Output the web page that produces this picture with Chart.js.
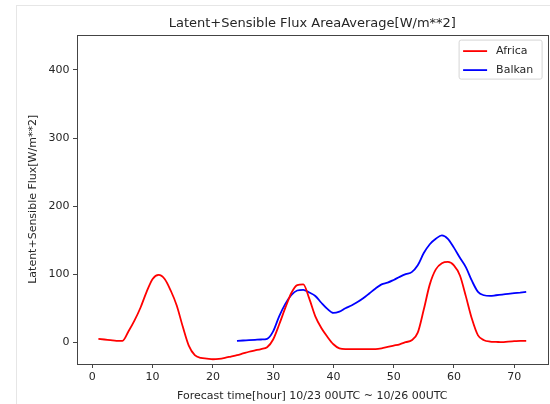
<!DOCTYPE html>
<html lang="en">
<head>
<meta charset="UTF-8">
<script src="https://cdn.jsdelivr.net/npm/chart.js"></script>
<title>Latent+Sensible Flux AreaAverage</title>
<style>
  html, body { margin: 0; padding: 0; background: #fff; }
  #wrap { position: relative; width: 550px; height: 404px; }
  #frame { position: absolute; left: 16px; top: 5px; right: 0; bottom: 0;
           border-left: 1px solid #e6e6e6; border-top: 1px solid #e6e6e6; }
  canvas { position: absolute; left: 0; top: 0; }
</style>
</head>
<body>
<div id="wrap">
  <div id="frame"></div>
  <canvas id="fluxChart" width="550" height="404"></canvas>
</div>

<script>
  // forecast hours
  const africaHours = [1,2,3,4,5,6,7,8,9,10,11,12,13,14,15,16,17,18,19,20,21,22,23,24,
    25,26,27,28,29,30,31,32,33,34,35,36,37,38,39,40,41,42,43,44,45,46,47,48,
    49,50,51,52,53,54,55,56,57,58,59,60,61,62,63,64,65,66,67,68,69,70,71,72];
  const africaFlux = [5,4,3,2,2,16,32,51,74,93,99,93,76,54,23,-5,-19,-23,-24,-25,-24.5,-23,-21,-19,
    -16.5,-14,-12,-10,-7.5,4,26,50,72,84,85,64,38,21,8,-3,-9,-10,-10,-10,-10,-10,-10,-9,
    -7,-5,-3,0,3,14,48,85,107,116,118,113,98,67,34,10,3,1,0.5,0,1,1.5,2,2];

  const balkanHours = [24,25,26,27,28,29,30,31,32,33,34,35,36,37,38,39,40,41,42,43,44,45,46,47,48,
    49,50,51,52,53,54,55,56,57,58,59,60,61,62,63,64,65,66,67,68,69,70,71,72];
  const balkanFlux = [2,2.5,3,3.5,4,5,16,38,56,69,76,77,73,68,58,49,43,45,50,54,59,65,72,79,85,
    87.5,91.5,96,100,103,113,131,144,152,157,152,139,124,110,90,74,69,68,69,70,71,72,73,74];

  const xTicks = [0,10,20,30,40,50,60,70];
  const yTicks = [0,100,200,300,400];

  const FONT = "'DejaVu Sans', sans-serif";
  const TXT = '#262626';

  // full rectangle around the plot, like matplotlib spines
  const axesBox = {
    id: 'axesBox',
    afterDatasetsDraw(chart) {
      const {ctx, chartArea: a} = chart;
      ctx.save();
      ctx.strokeStyle = '#444';
      ctx.lineWidth = 1;
      ctx.strokeRect(Math.round(a.left) + 0.5, Math.round(a.top) + 0.5,
                     Math.round(a.right - a.left), Math.round(a.bottom - a.top));
      ctx.restore();
    }
  };

  // matplotlib style legend in the upper right corner
  const legendBox = {
    id: 'legendBox',
    afterDraw(chart) {
      const {ctx, chartArea: a} = chart;
      const w = 83, h = 39;
      const x = a.right - 5.5 - w, y = a.top + 5.5;
      ctx.save();
      ctx.beginPath();
      ctx.roundRect(x, y, w, h, 2);
      ctx.fillStyle = 'rgba(255,255,255,0.8)';
      ctx.fill();
      ctx.strokeStyle = '#d6d6d6';
      ctx.lineWidth = 1;
      ctx.stroke();
      chart.data.datasets.forEach((ds, i) => {
        const cy = y + 11 + i * 19;
        ctx.beginPath();
        ctx.moveTo(x + 4, cy);
        ctx.lineTo(x + 28, cy);
        ctx.strokeStyle = ds.borderColor;
        ctx.lineWidth = 1.8;
        ctx.stroke();
        ctx.fillStyle = TXT;
        ctx.font = '11px ' + FONT;
        ctx.textBaseline = 'middle';
        ctx.textAlign = 'left';
        ctx.fillText(ds.label, x + 37, cy);
      });
      ctx.restore();
    }
  };

  const ctx = document.getElementById('fluxChart').getContext('2d');
  new Chart(ctx, {
    type: 'line',
    data: {
      datasets: [
        {
          label: 'Africa',
          data: africaHours.map((h, i) => ({x: h, y: africaFlux[i]})),
          borderColor: '#ff0000',
          borderWidth: 1.8,
          pointRadius: 0,
          cubicInterpolationMode: 'monotone',
          fill: false
        },
        {
          label: 'Balkan',
          data: balkanHours.map((h, i) => ({x: h, y: balkanFlux[i]})),
          borderColor: '#0000ff',
          borderWidth: 1.8,
          pointRadius: 0,
          cubicInterpolationMode: 'monotone',
          fill: false
        }
      ]
    },
    options: {
      responsive: false,
      animation: false,
      layout: { padding: { left: 0, right: 2.4, top: 0, bottom: 0 } },
      plugins: {
        legend: { display: false },
        tooltip: { enabled: false },
        title: {
          display: true,
          fullSize: false,
          text: 'Latent+Sensible Flux AreaAverage[W/m**2]',
          color: TXT,
          font: { family: FONT, size: 13, weight: 'normal', lineHeight: 1.2 },
          padding: { top: 16, bottom: 3 }
        }
      },
      scales: {
        x: {
          type: 'linear',
          min: -2.55,
          max: 75.55,
          afterBuildTicks: s => { s.ticks = xTicks.map(v => ({value: v})); },
          afterFit: s => { s.height = 40; },
          border: { display: false },
          grid: { drawOnChartArea: false, drawTicks: true, tickLength: 4, color: '#444' },
          ticks: { color: TXT, font: { family: FONT, size: 11 }, padding: 2.5, maxRotation: 0 },
          title: {
            display: true,
            text: 'Forecast time[hour] 10/23 00UTC ~ 10/26 00UTC',
            color: TXT,
            font: { family: FONT, size: 11, lineHeight: 1.2 },
            padding: { top: 0, bottom: 1 }
          }
        },
        y: {
          type: 'linear',
          min: -32,
          max: 452,
          afterBuildTicks: s => { s.ticks = yTicks.map(v => ({value: v})); },
          afterFit: s => { s.width = 77; },
          border: { display: false },
          grid: { drawOnChartArea: false, drawTicks: true, tickLength: 4, color: '#444' },
          ticks: { color: TXT, font: { family: FONT, size: 11 }, padding: 3.5 },
          title: {
            display: true,
            text: 'Latent+Sensible Flux[W/m**2]',
            color: TXT,
            font: { family: FONT, size: 11, lineHeight: 1.2 },
            padding: { top: 26.4, bottom: 0 }
          }
        }
      }
    },
    plugins: [axesBox, legendBox]
  });
</script>
</body>
</html>
